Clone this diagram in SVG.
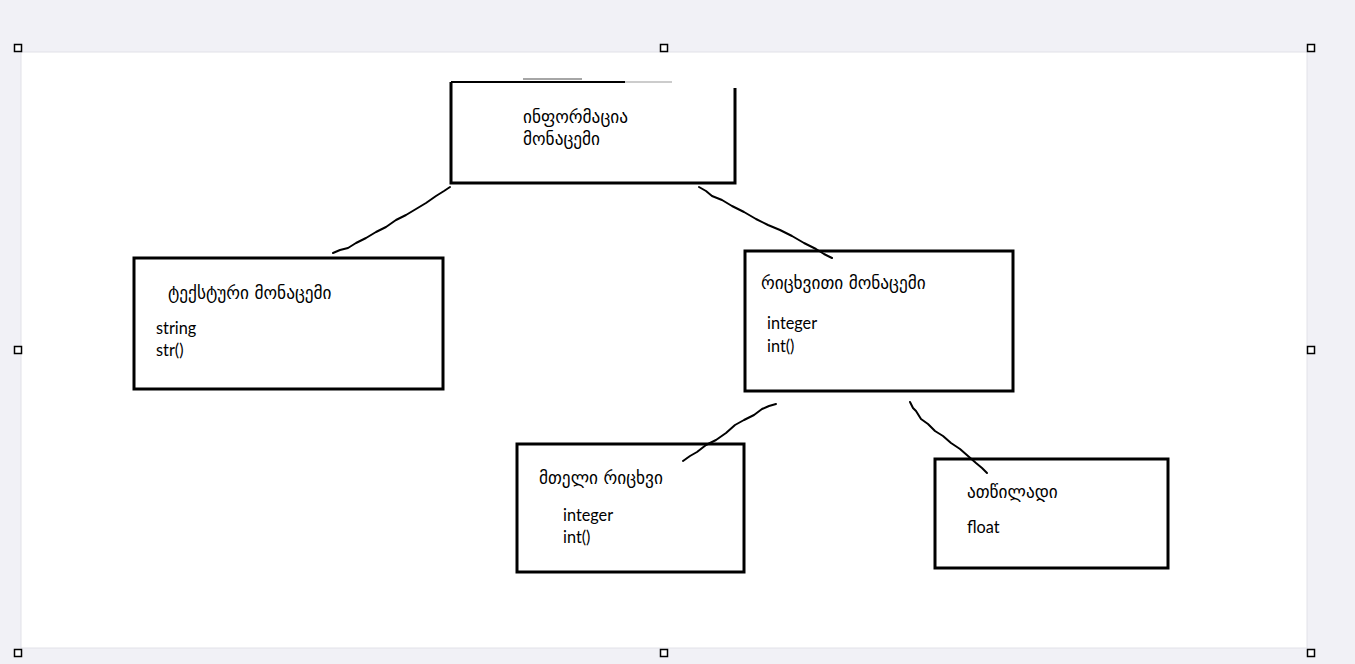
<svg xmlns="http://www.w3.org/2000/svg" width="1355" height="664" viewBox="0 0 1355 664">
<style>
.box{fill:none;stroke:#000;stroke-width:3}
.ka{font-family:"DejaVu Sans","Noto Sans",sans-serif;font-size:17.3px;fill:#000}
.la{font-family:Lato,"Open Sans",sans-serif;font-size:16.3px;fill:#000}
.con{fill:none;stroke:#000;stroke-width:2;stroke-linecap:round;stroke-linejoin:round}
.h{fill:#fff;stroke:#000;stroke-width:1.5}
</style>
<rect x="0" y="0" width="1355" height="664" fill="#f1f1f6"/>
<rect x="21" y="52" width="1286" height="596" fill="#fff" stroke="#e2e2e8" stroke-width="1"/>
<g id="connectors">
<path class="con" d="M333,253 L340,250 L348,248 L356,243 L366,238 L376,232 L386,227 L396,220 L406,215 L416,209 L426,203 L436,196 L444,191 L450,187"/>
<path class="con" d="M699,187 L706,191 L712,196 L722,200 L732,206 L744,212 L756,219 L768,225 L780,230 L792,236 L804,243 L816,249 L824,254 L832,258"/>
<path class="con" d="M776,404 L769,406 L762,409 L754,415 L744,420 L735,425 L726,433 L716,440 L706,445 L697,452 L690,456 L683,461"/>
<path class="con" d="M910,402 L913,408 L916,411 L921,419 L928,424 L935,431 L943,436 L951,443 L960,449 L968,456 L976,463 L982,468 L987,473"/>
</g>
<g id="node-info">
<path d="M451,82 L451,183 L735,183 L735,88" fill="none" stroke="#000" stroke-width="3"/>
<path d="M451,82 L625,82" fill="none" stroke="#000" stroke-width="2"/>
<path d="M625,82 L672,82" fill="none" stroke="#bbb" stroke-width="1.5"/>
<path d="M523,79 L582,79" fill="none" stroke="#888" stroke-width="1.5"/>
<text class="ka" x="523" y="123">ინფორმაცია</text>
<text class="ka" x="523" y="145">მონაცემი</text>
</g>
<g id="node-text">
<rect class="box" x="134" y="258" width="309" height="131"/>
<text class="ka" x="168" y="299">ტექსტური მონაცემი</text>
<text class="la" x="156" y="334">string</text>
<text class="la" x="156" y="356">str()</text>
</g>
<g id="node-numeric">
<rect class="box" x="745" y="251" width="268" height="140"/>
<text class="ka" x="761" y="289">რიცხვითი მონაცემი</text>
<text class="la" x="767" y="329">integer</text>
<text class="la" x="767" y="352">int()</text>
</g>
<g id="node-integer">
<rect class="box" x="517" y="444" width="227" height="128"/>
<text class="ka" x="539" y="484">მთელი რიცხვი</text>
<text class="la" x="563" y="521">integer</text>
<text class="la" x="563" y="543">int()</text>
</g>
<g id="node-float">
<rect class="box" x="935" y="459" width="233" height="109"/>
<text class="ka" x="967" y="498">ათწილადი</text>
<text class="la" x="967" y="533">float</text>
</g>
<g id="handles">
<rect class="h" x="14.5" y="44.5" width="7" height="7"/>
<rect class="h" x="660.5" y="44.5" width="7" height="7"/>
<rect class="h" x="1307.5" y="44.5" width="7" height="7"/>
<rect class="h" x="14.5" y="346.5" width="7" height="7"/>
<rect class="h" x="1307.5" y="346.5" width="7" height="7"/>
<rect class="h" x="14.5" y="649.5" width="7" height="7"/>
<rect class="h" x="660.5" y="649.5" width="7" height="7"/>
<rect class="h" x="1307.5" y="649.5" width="7" height="7"/>
</g>
</svg>
